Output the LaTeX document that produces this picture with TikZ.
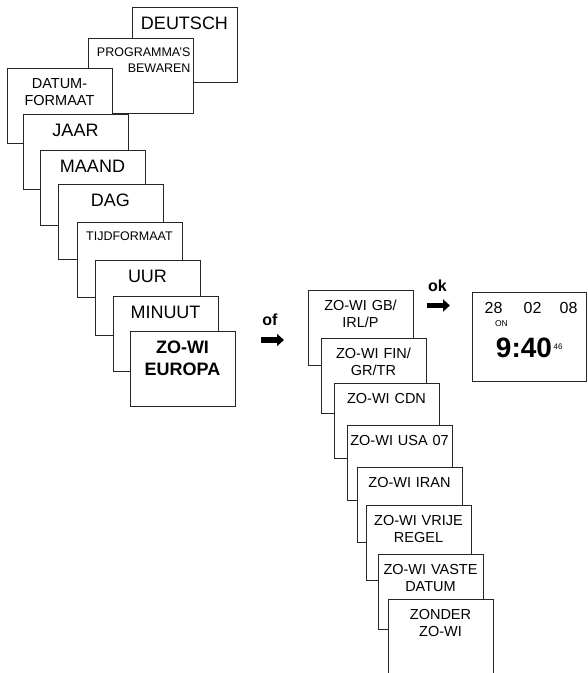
\documentclass[tikz,border=0pt]{standalone}
\usepackage{fontspec}
\setmainfont{Liberation Sans}
\usetikzlibrary{arrows.meta, positioning}

\begin{document}
\begin{tikzpicture}[x=1pt, y=-1pt, on grid,
  menu/.style={rectangle, draw=black!85, line width=0.9pt, fill=white, inner xsep=2.5pt, inner ysep=4pt, text width=100pt, align=center},
  big/.style={menu, font=\fontsize{18}{22}\selectfont, text height=18.5pt, text depth=48.5pt},
  small/.style={menu, font=\fontsize{14.5}{17.5}\selectfont, text height=16pt, text depth=51pt},
  tiny/.style={menu, font=\fontsize{12.5}{16}\selectfont, text height=14.5pt, text depth=52.5pt},
  hint/.style={font=\bfseries\fontsize{16}{18}\selectfont, inner sep=0pt},
  digits/.style={font=\fontsize{16}{18}\selectfont, inner sep=0pt},
  fat/.style={line width=5.5pt, -{Triangle[length=7pt, width=12pt]}}]

        \useasboundingbox (0,0) rectangle (588,673);

        % instellingen
        \node[big] (deutsch) at (184.5,44.5) {DEUTSCH};
        \node[tiny, align=right, below left=31pt and 44pt of deutsch] (bewaren) {PROGRAMMA'S\\BEWAREN};
        \node[small, below left=30pt and 81pt of bewaren] (datum) {DATUM-\\FORMAAT};
        \node[big, below right=46pt and 16pt of datum] (jaar) {JAAR};
        \node[big, below right=36pt and 17pt of jaar] (maand) {MAAND};
        \node[big, below right=34pt and 18pt of maand] (dag) {DAG};
        \node[tiny, below right=38pt and 19pt of dag] (tijd) {TIJDFORMAAT};
        \node[big, below right=38pt and 18pt of tijd] (uur) {UUR};
        \node[big, below right=36pt and 18pt of uur] (minuut) {MINUUT};
        \node[big, font=\bfseries\fontsize{18}{22}\selectfont, below right=35pt and 17pt of minuut] (europa) {ZO-WI\\EUROPA};

        \node[hint] (of) at (270,319.5) {of};
        \coordinate (ofa) at (261,340);
        \coordinate[right=23pt of ofa] (ofb);
        \draw[fat] (ofa) -- (ofb);

        % zomer-/wintertijd
        \node[small] (gb) at (360.5,327.5) {ZO-WI GB/\\IRL/P};
        \node[small, below right=48pt and 13pt of gb] (fin) {ZO-WI FIN/\\GR/TR};
        \node[small, below right=45pt and 13pt of fin] (cdn) {ZO-WI CDN};
        \node[small, below right=42pt and 13pt of cdn] (usa) {ZO-WI USA 07};
        \node[small, below right=42pt and 10pt of usa] (iran) {ZO-WI IRAN};
        \node[small, below right=38pt and 9pt of iran] (vrij) {ZO-WI VRIJE\\REGEL};
        \node[small, below right=49pt and 12pt of vrij] (vast) {ZO-WI VASTE\\DATUM};
        \node[small, below right=45pt and 10pt of vast] (zonder) {ZONDER\\ZO-WI};

        \node[hint] (ok) at (437.5,285.5) {ok};
        \coordinate (oka) at (427,305.5);
        \coordinate[right=23pt of oka] (okb);
        \draw[fat] (oka) -- (okb);

        % display
        \node[draw=black!85, line width=0.9pt, minimum width=114pt, minimum height=89pt, inner sep=0pt] (lcd) at (529,336.5) {};
        \node[digits] (day) at (493.5,308) {28};
        \node[digits, right=39pt of day] (month) {02};
        \node[digits, right=36pt of month] (year) {08};
        \node[digits, font=\fontsize{8.5}{9}\selectfont, below right=15.5pt and 8pt of day] (on) {ON};
        \node[digits, font=\bfseries\fontsize{28}{30}\selectfont] (time) at (524,348) {9:40};
        \node[digits, font=\fontsize{8}{9}\selectfont, right=34pt of time, yshift=1.5pt] (sec) {46};

    \end{tikzpicture}
\end{document}
